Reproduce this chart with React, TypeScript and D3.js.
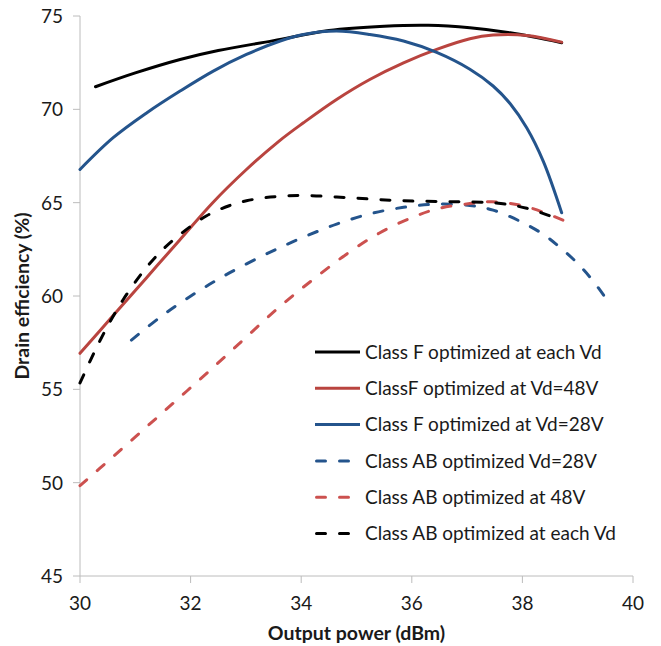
import React from 'react';
import * as d3 from 'd3';

// output power (dBm) / drain efficiency (%)
const fEachX = [30.28, 31.0, 31.81, 32.5, 33.5, 34.5, 35.5, 36.3, 37.05, 37.78, 38.71];
const fEachY = [71.21, 71.95, 72.67, 73.15, 73.68, 74.22, 74.45, 74.5, 74.37, 74.1, 73.57];

const f48X = [30.0, 30.6, 31.2, 31.8, 32.4, 33.0, 33.6, 34.04, 34.64, 35.24, 35.85, 36.45, 37.05, 37.47, 38.08, 38.71];
const f48Y = [56.93, 58.95, 60.97, 62.99, 65.0, 66.75, 68.3, 69.28, 70.53, 71.6, 72.49, 73.21, 73.78, 73.98, 73.96, 73.6];

const f28X = [30.0, 30.6, 31.21, 31.81, 32.41, 33.01, 33.62, 34.04, 34.64, 35.24, 35.85, 36.45, 37.05, 37.47, 37.78, 38.08, 38.38, 38.71];
const f28Y = [66.78, 68.48, 69.82, 70.98, 72.05, 72.94, 73.66, 74.01, 74.19, 74.01, 73.66, 73.05, 72.15, 71.25, 70.3, 69.0, 67.2, 64.46];

const ab28X = [30.93, 31.51, 32.11, 32.71, 33.44, 34.04, 34.64, 35.24, 35.85, 36.45, 37.05, 37.47, 37.96, 38.38, 38.68, 38.98, 39.28, 39.55];
const ab28Y = [57.64, 59.0, 60.2, 61.25, 62.35, 63.15, 63.85, 64.4, 64.75, 64.92, 64.85, 64.6, 64.0, 63.3, 62.6, 61.8, 60.8, 59.7];

const ab48X = [30.0, 30.6, 31.2, 31.8, 32.4, 33.0, 33.6, 34.2, 34.8, 35.4, 36.0, 36.5, 37.05, 37.45, 38.08, 38.8];
const ab48Y = [49.84, 51.4, 52.98, 54.56, 56.15, 57.78, 59.4, 60.85, 62.2, 63.35, 64.2, 64.7, 64.95, 65.05, 64.78, 63.98];

const abEachX = [30.0, 30.18, 30.36, 30.54, 30.78, 31.14, 31.45, 31.81, 32.29, 32.71, 33.01, 33.44, 34.04, 34.94, 35.85, 36.75, 37.53, 38.08, 38.62];
const abEachY = [55.34, 56.5, 57.6, 58.6, 59.8, 61.3, 62.35, 63.3, 64.3, 64.85, 65.1, 65.3, 65.38, 65.25, 65.1, 65.05, 64.98, 64.7, 64.16];

const xTicks = [30, 32, 34, 36, 38, 40];
const yTicks = [45, 50, 55, 60, 65, 70, 75];

const series = [
  { name: 'Class F optimized at each Vd', xs: fEachX, ys: fEachY, color: '#000000', dashed: false },
  { name: 'ClassF optimized at Vd=48V', xs: f48X, ys: f48Y, color: '#b9443f', dashed: false },
  { name: 'Class F optimized at Vd=28V', xs: f28X, ys: f28Y, color: '#24548c', dashed: false },
  { name: 'Class AB optimized Vd=28V', xs: ab28X, ys: ab28Y, color: '#24548c', dashed: true },
  { name: 'Class AB optimized at 48V', xs: ab48X, ys: ab48Y, color: '#cc514f', dashed: true },
  { name: 'Class AB optimized at each Vd', xs: abEachX, ys: abEachY, color: '#000000', dashed: true },
];

const font = 'Lato, "Open Sans", sans-serif';
const axisColor = '#bcbcbc';

export default function App() {
  const width = 661,
    height = 646;
  const x = d3.scaleLinear().domain([30, 40]).range([80, 633]);
  const y = d3.scaleLinear().domain([45, 75]).range([576, 16]);

  const line = d3
    .line<[number, number]>()
    .x(d => x(d[0]))
    .y(d => y(d[1]))
    .curve(d3.curveCatmullRom.alpha(0.5));

  const legendX = 315,
    legendY = 352,
    legendStep = 36.3;

  return (
    <svg
      width={width}
      height={height}
      style={{ position: 'absolute', left: 0, top: 0, background: '#fff', fontFamily: font }}
    >
      <rect width={width} height={height} fill="#fff" />

      {/* axes */}
      <line x1={x(30)} x2={x(30)} y1={y(75)} y2={y(45)} stroke={axisColor} />
      <line x1={x(30)} x2={x(40)} y1={y(45)} y2={y(45)} stroke={axisColor} />
      {yTicks.map(t => (
        <g key={'y' + t}>
          <line x1={x(30) - 7} x2={x(30)} y1={y(t)} y2={y(t)} stroke={axisColor} />
          <text x={x(30) - 17} y={y(t)} dy="0.36em" textAnchor="end" fontSize={19} fill="#1a1a1a">
            {t}
          </text>
        </g>
      ))}
      {xTicks.map(t => (
        <g key={'x' + t}>
          <line x1={x(t)} x2={x(t)} y1={y(45)} y2={y(45) + 7} stroke={axisColor} />
          <text x={x(t)} y={610} textAnchor="middle" fontSize={19} fill="#1a1a1a">
            {t}
          </text>
        </g>
      ))}

      {/* curves */}
      {series.map(s => (
        <path
          key={s.name}
          d={line(s.xs.map((v, i) => [v, s.ys[i]] as [number, number])) || ''}
          fill="none"
          stroke={s.color}
          strokeWidth={3}
          strokeLinecap="round"
          strokeDasharray={s.dashed ? '9,14' : undefined}
        />
      ))}

      {/* legend */}
      {series.map((s, i) => (
        <g key={'leg' + i} transform={`translate(${legendX}, ${legendY + i * legendStep})`}>
          <line
            x1={s.dashed ? 1.5 : 0}
            x2={45}
            y1={0}
            y2={0}
            stroke={s.color}
            strokeWidth={3}
            strokeLinecap={s.dashed ? 'round' : 'butt'}
            strokeDasharray={s.dashed ? '9,14' : undefined}
          />
          <text x={50} y={0} dy="0.36em" fontSize={19} fill="#1a1a1a">
            {s.name}
          </text>
        </g>
      ))}

      {/* axis titles */}
      <text x={(x(30) + x(40)) / 2} y={640} textAnchor="middle" fontSize={19.5} fontWeight="bold" fill="#1a1a1a">
        Output power (dBm)
      </text>
      <text
        transform={`translate(29, ${(y(45) + y(75)) / 2}) rotate(-90)`}
        textAnchor="middle"
        fontSize={19.5}
        fontWeight="bold"
        fill="#1a1a1a"
      >
        Drain efficiency (%)
      </text>
    </svg>
  );
}
